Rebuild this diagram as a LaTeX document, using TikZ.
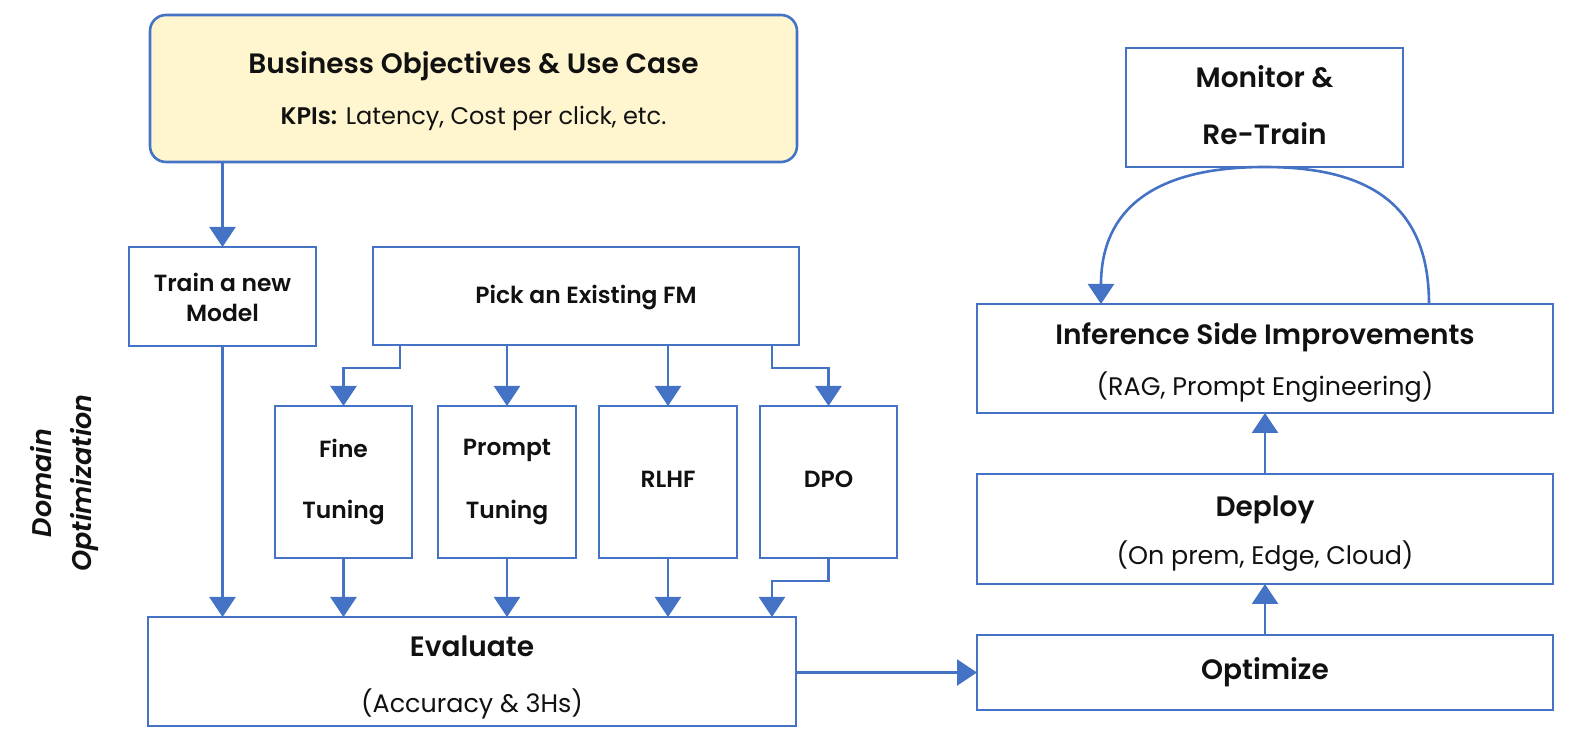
\documentclass[tikz,border=0pt]{standalone}
\usepackage{fontspec}
\setmainfont{Poppins}[BoldFont={Poppins SemiBold},BoldItalicFont={Poppins SemiBold Italic}]
\usetikzlibrary{arrows.meta,calc}
\definecolor{lnblue}{HTML}{4472C4}
\definecolor{bizfill}{HTML}{FFF6CF}
\definecolor{txt}{HTML}{111111}
\begin{document}
\begin{tikzpicture}[x=0.5pt,y=-0.5pt,
  box/.style={draw=lnblue,line width=1.3pt,fill=white,inner sep=0pt,outer sep=0pt},
  ttl/.style={text=txt,font=\fontsize{14}{16}\selectfont\bfseries,inner sep=0pt},
  lbl/.style={text=txt,font=\fontsize{11.7}{14}\selectfont\bfseries,inner sep=0pt},
  sub/.style={text=txt,font=\fontsize{12.7}{15}\selectfont,inner sep=0pt},
  kpi/.style={text=txt,font=\fontsize{12}{14}\selectfont,inner sep=0pt},
  arr/.style={draw=lnblue,line width=1.3pt,-{Triangle[width=13pt,length=10pt]}},
  ln/.style={draw=lnblue,line width=1.3pt}]
\useasboundingbox (0,0) rectangle (1586,742);

% Business objectives
\node[box,fill=bizfill,rounded corners=8pt,minimum width=323.5pt,minimum height=73.5pt] (biz) at (473.5,88.5) {};
\node[ttl] (bizt) at (473.5,66) {Business Objectives \& Use Case};
\node[kpi] (bizk) at (473.5,118) {\textbf{KPIs:} Latency, Cost per click, etc.};

% Train / Pick
\node[box,minimum width=93.5pt,minimum height=49.5pt] (train) at (222.5,296.5) {};
\node[lbl] (traint1) at (222.5,282) {Train a new};
\node[lbl] (traint2) at (222.5,313) {Model};
\node[box,minimum width=213pt,minimum height=49pt] (pick) at (586,296) {};
\node[lbl] (pickt) at (586,298) {Pick an Existing FM};

% Four methods
\node[box,minimum width=68.5pt,minimum height=76pt] (fine) at (343.5,482) {};
\node[lbl] (finet1) at (343.5,448) {Fine};
\node[lbl] (finet2) at (343.5,513) {Tuning};
\node[box,minimum width=69pt,minimum height=76pt] (prompt) at (507,482) {};
\node[lbl] (promptt1) at (507,450) {Prompt};
\node[lbl] (promptt2) at (507,513) {Tuning};
\node[box,minimum width=69pt,minimum height=76pt] (rlhf) at (668,482) {};
\node[lbl] (rlhft) at (668,479) {RLHF};
\node[box,minimum width=68.5pt,minimum height=76pt] (dpo) at (828.5,482) {};
\node[lbl] (dpot) at (828.5,479) {DPO};

% Evaluate
\node[box,minimum width=324pt,minimum height=54.5pt] (eval) at (472,671.5) {};
\node[ttl] (evalt1) at (472,646) {Evaluate};
\node[sub] (evalt2) at (472,704) {(Accuracy \& 3Hs)};

% Right column
\node[box,minimum width=138.5pt,minimum height=59.5pt] (mon) at (1264.5,107.5) {};
\node[ttl] (mont1) at (1264.5,77) {Monitor \&};
\node[ttl] (mont2) at (1264.5,134) {Re-Train};
\node[box,minimum width=288pt,minimum height=54.5pt] (inf) at (1265,358.5) {};
\node[ttl] (inft1) at (1265,337) {Inference Side Improvements};
\node[sub] (inft2) at (1265,387) {(RAG, Prompt Engineering)};
\node[box,minimum width=288pt,minimum height=55pt] (dep) at (1265,529) {};
\node[ttl] (dept1) at (1265,510) {Deploy};
\node[sub] (dept2) at (1265,556) {(On prem, Edge, Cloud)};
\node[box,minimum width=288pt,minimum height=37.5pt] (opt) at (1265,672.5) {};
\node[ttl] (optt) at (1265,672) {Optimize};

% Side label
\node[text=txt,font=\fontsize{13.5}{20}\selectfont\bfseries\itshape,rotate=90,align=center,inner sep=0pt] (dom) at (64,483) {Domain\\Optimization};

% helper x positions
\coordinate (xf) at (400,0);
\coordinate (xd) at (772,0);

% Connectors
\draw[arr] (biz.south -| train.north) -- (train.north);
\draw[arr] (pick.south -| xf) -- (400,368) -| (fine.north);
\draw[arr] (pick.south -| prompt.north) -- (prompt.north);
\draw[arr] (pick.south -| rlhf.north) -- (rlhf.north);
\draw[arr] (pick.south -| xd) -- (772,368) -| (dpo.north);
\draw[arr] (train.south) -- (train.south |- eval.north);
\draw[arr] (fine.south) -- (fine.south |- eval.north);
\draw[arr] (prompt.south) -- (prompt.south |- eval.north);
\draw[arr] (rlhf.south) -- (rlhf.south |- eval.north);
\draw[arr] (dpo.south) -- (828.5,581) -| (eval.north -| xd);
\draw[arr] (eval.east |- opt.west) -- (opt.west);
\draw[arr] (opt.north) -- (dep.south);
\draw[arr] (dep.north) -- (inf.south);
\draw[arr] ($(inf.north)+(164,0)$) .. controls ($(inf.north)+(164,-95)$) and ($(mon.south)+(110,0)$) .. (mon.south)
  .. controls ($(mon.south)+(-110,0)$) and ($(inf.north)+(-164,-95)$) .. ($(inf.north)+(-164,0)$);
\end{tikzpicture}
\end{document}
